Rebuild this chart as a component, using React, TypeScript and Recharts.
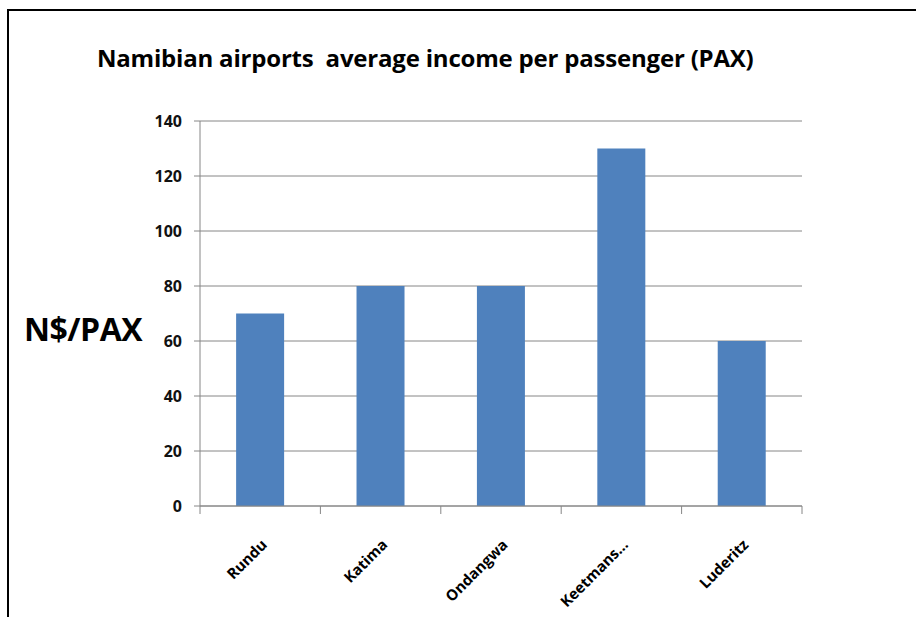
import React from "react";
import { BarChart, Bar, XAxis, YAxis, CartesianGrid } from "recharts";

const airports = ["Rundu", "Katima", "Ondangwa", "Keetmans…", "Luderitz"];
const incomePerPax = [70, 80, 80, 130, 60];
const yTicks = [0, 20, 40, 60, 80, 100, 120, 140];
const boundaryTicks = [0, 1, 2, 3, 4, 5];

// slot = centre of each category on a 0..5 scale, used only for the boundary tick axis
const data = airports.map((name, i) => ({ name, value: incomePerPax[i], slot: i + 0.5 }));

const FONT = "'Open Sans', sans-serif";
const GREY = "#868686";

const XTick = (props: any) => {
  const { x, y, payload } = props;
  return (
    <g transform={`translate(${x + 4},${y + 29})`}>
      <text
        transform="rotate(-45)"
        textAnchor="end"
        dy="0.35em"
        fontFamily={FONT}
        fontWeight="bold"
        fontSize={15}
        fill="#000"
      >
        {payload.value}
      </text>
    </g>
  );
};

const NoLabel = () => <g />;

export default function App() {
  return (
    <div style={{ position: "absolute", left: 0, top: 0, width: 916, height: 617, background: "#fff", overflow: "hidden" }}>
      <div style={{ position: "absolute", left: 7, top: 9, width: 960, height: 700, borderLeft: "2px solid #000", borderTop: "2px solid #000" }} />
      <div style={{ position: "absolute", left: 97, top: 41, fontFamily: FONT, fontWeight: "bold", fontSize: 24, letterSpacing: -0.2, color: "#000", whiteSpace: "pre" }}>
        {"Namibian airports  average income per passenger (PAX)"}
      </div>
      <div style={{ position: "absolute", left: 24, top: 307, fontFamily: FONT, fontWeight: "bold", fontSize: 32, letterSpacing: -0.5, color: "#000" }}>
        N$/PAX
      </div>
      <div style={{ position: "absolute", left: 0, top: 0 }}>
        <BarChart width={916} height={617} data={data} margin={{ top: 121, right: 114, bottom: 0, left: 0 }} barCategoryGap="30%">
          <CartesianGrid xAxisId="b" vertical={false} stroke={GREY} horizontalValues={yTicks} />
          <XAxis
            xAxisId="a"
            type="number"
            dataKey="slot"
            domain={[0, 5]}
            ticks={boundaryTicks}
            interval={0}
            allowDataOverflow
            height={1}
            tick={<NoLabel />}
            tickSize={8}
            axisLine={{ stroke: GREY }}
            tickLine={{ stroke: GREY }}
          />
          <XAxis
            xAxisId="b"
            dataKey="name"
            height={110}
            interval={0}
            axisLine={false}
            tickLine={false}
            tick={<XTick />}
            tickMargin={0}
          />
          <YAxis
            width={200}
            domain={[0, 140]}
            ticks={yTicks}
            interval={0}
            tickSize={6}
            tickMargin={12}
            axisLine={{ stroke: GREY }}
            tickLine={{ stroke: GREY }}
            tick={{ fill: "#111", fontFamily: FONT, fontWeight: "bold", fontSize: 16 }}
          />
          <Bar xAxisId="b" dataKey="value" fill="#4F81BD" isAnimationActive={false} />
        </BarChart>
      </div>
    </div>
  );
}
